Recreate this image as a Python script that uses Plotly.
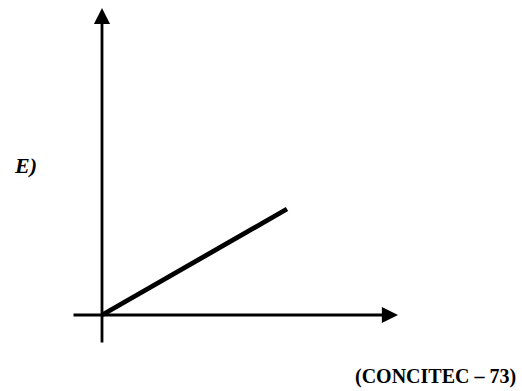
import plotly.graph_objects as go

# Data (coordinates in an arbitrary unit, origin at the axes crossing)
series_x = [0, 185]
series_y = [0, 106]
x_axis_span = [-30, 296]   # horizontal axis tail -> arrow tip
y_axis_span = [-29, 307]   # vertical axis tail -> arrow tip
panel_label = "E)"
source_label = "(CONCITEC – 73)"

fig = go.Figure()

fig.add_trace(go.Scatter(
    x=series_x, y=series_y, mode="lines",
    line=dict(color="black", width=4.8),
    hoverinfo="skip", showlegend=False,
))

# Axes drawn as arrows
fig.add_annotation(
    x=x_axis_span[1], y=0, ax=x_axis_span[0], ay=0,
    xref="x", yref="y", axref="x", ayref="y",
    showarrow=True, arrowhead=2, arrowsize=1.15, arrowwidth=2.8,
    arrowcolor="black", text="",
)
fig.add_annotation(
    x=0, y=y_axis_span[1], ax=0, ay=y_axis_span[0],
    xref="x", yref="y", axref="x", ayref="y",
    showarrow=True, arrowhead=2, arrowsize=1.15, arrowwidth=2.8,
    arrowcolor="black", text="",
)

fig.add_annotation(
    x=-90, y=150, xref="x", yref="y", showarrow=False,
    text="<b><i>" + panel_label + "</i></b>", xanchor="left", yanchor="middle",
    font=dict(family="Liberation Serif", size=22, color="black"),
)
fig.add_annotation(
    x=251, y=-61, xref="x", yref="y", showarrow=False,
    text="<b>" + source_label + "</b>", xanchor="left", yanchor="middle",
    font=dict(family="Liberation Serif", size=20, color="black"),
)

fig.update_xaxes(range=[-102, 420], visible=False, fixedrange=True)
fig.update_yaxes(range=[-76, 315], visible=False, fixedrange=True)
fig.update_layout(
    width=522, height=391,
    margin=dict(l=0, r=0, t=0, b=0),
    paper_bgcolor="white", plot_bgcolor="white",
    showlegend=False,
)

fig.write_html(
    "out.html",
    config={"displayModeBar": False},
    post_script="document.body.style.margin='0';document.body.style.overflow='hidden';",
)
